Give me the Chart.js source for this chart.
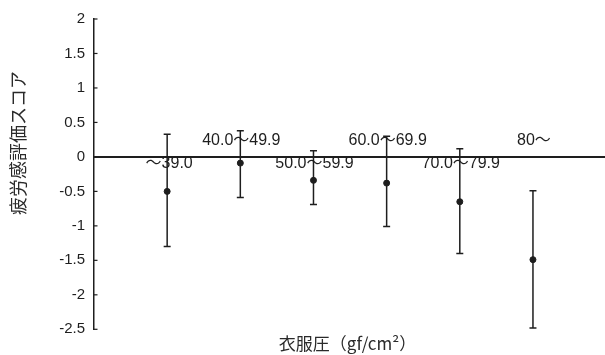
<!DOCTYPE html>
<html>
<head>
<meta charset="utf-8">
<script src="https://cdn.jsdelivr.net/npm/chart.js@4/dist/chart.umd.min.js"></script>
<style>
html,body{margin:0;padding:0;background:#fff;}
#wrap{width:605px;height:355px;position:relative;}
</style>
</head>
<body>
<div id="wrap"><canvas id="c" width="605" height="355"></canvas></div>
<script>
// Data
const categories = ["～39.0", "40.0～49.9", "50.0～59.9", "60.0～69.9", "70.0～79.9", "80～"];
const means = [-0.50, -0.09, -0.34, -0.38, -0.65, -1.49];
const upper = [0.33, 0.38, 0.09, 0.30, 0.12, -0.49];
const lower = [-1.30, -0.59, -0.69, -1.01, -1.40, -2.48];
const yTicks = [2, 1.5, 1, 0.5, 0, -0.5, -1, -1.5, -2, -2.5];
const yTitle = "疲労感評価スコア";
const xTitle = "衣服圧（gf/cm²）";

const INK = '#1e1e1e';
const FONT = '"Liberation Sans", Arial, "Noto Sans CJK JP", sans-serif';

const points = means.map((m, i) => ({x: i + 1, y: m}));

const decor = {
  id: 'decor',
  afterDatasetsDraw(chart) {
    const ctx = chart.ctx;
    const xs = chart.scales.x, ys = chart.scales.y;
    const area = chart.chartArea;
    ctx.save();
    ctx.strokeStyle = INK;
    ctx.fillStyle = INK;
    // inner tick marks on y axis
    ctx.lineWidth = 1.2;
    yTicks.forEach(v => {
      const y = ys.getPixelForValue(v);
      ctx.beginPath();
      ctx.moveTo(area.left, y);
      ctx.lineTo(area.left + 3.5, y);
      ctx.stroke();
    });
    // zero line
    const y0 = ys.getPixelForValue(0);
    ctx.lineWidth = 2;
    ctx.beginPath();
    ctx.moveTo(area.left, y0);
    ctx.lineTo(chart.width, y0);
    ctx.stroke();
    // error bars
    ctx.lineWidth = 1.5;
    means.forEach((m, i) => {
      const x = xs.getPixelForValue(i + 1);
      const yt = ys.getPixelForValue(upper[i]);
      const yb = ys.getPixelForValue(lower[i]);
      ctx.beginPath();
      ctx.moveTo(x, yt); ctx.lineTo(x, yb);
      ctx.moveTo(x - 3.5, yt); ctx.lineTo(x + 3.5, yt);
      ctx.moveTo(x - 3.5, yb); ctx.lineTo(x + 3.5, yb);
      ctx.stroke();
    });
    // category labels alternating above / below the zero line
    ctx.font = '16px ' + FONT;
    ctx.textAlign = 'center';
    ctx.textBaseline = 'alphabetic';
    categories.forEach((c, i) => {
      const x = xs.getPixelForValue(i + 1);
      const y = (i % 2 === 1) ? y0 - 12 : y0 + 11;
      ctx.fillText(c, x + (i === 0 ? 2 : 1), y);
    });
    // y axis title
    ctx.font = '18px "Noto Sans CJK JP", sans-serif';
    ctx.fillStyle = '#2a2a2a';
    ctx.translate(18, 143);
    ctx.rotate(-Math.PI / 2);
    ctx.textAlign = 'center';
    ctx.textBaseline = 'middle';
    ctx.fillText(yTitle, 0, 0);
    ctx.restore();
  }
};

new Chart(document.getElementById('c'), {
  type: 'scatter',
  data: {
    datasets: [{
      data: points,
      pointRadius: 3,
      pointHoverRadius: 3,
      pointBackgroundColor: INK,
      pointBorderColor: INK,
      showLine: false
    }]
  },
  options: {
    responsive: false,
    animation: false,
    devicePixelRatio: 1,
    layout: {padding: {top: 19, right: 0, left: 0, bottom: 0}},
    plugins: {legend: {display: false}, tooltip: {enabled: false}},
    scales: {
      x: {
        type: 'linear',
        min: 0,
        max: 6.93,
        grid: {display: false, drawTicks: false},
        border: {display: false},
        ticks: {display: false},
        title: {
          display: true,
          text: xTitle,
          color: '#2a2a2a',
          font: {size: 17, family: '"Noto Sans CJK JP", "Liberation Sans", sans-serif', lineHeight: 1.1},
          padding: {top: 5, bottom: 2}
        }
      },
      y: {
        type: 'linear',
        min: -2.5,
        max: 2,
        afterBuildTicks(scale) { scale.ticks = yTicks.map(v => ({value: v})); },
        afterFit(scale) { scale.width = 94; },
        grid: {display: false, drawTicks: false},
        border: {display: true, color: INK, width: 1.5},
        ticks: {
          color: INK,
          padding: 9,
          font: {size: 15, family: FONT},
          callback: v => String(v)
        }
      }
    }
  },
  plugins: [decor]
});
</script>
</body>
</html>
